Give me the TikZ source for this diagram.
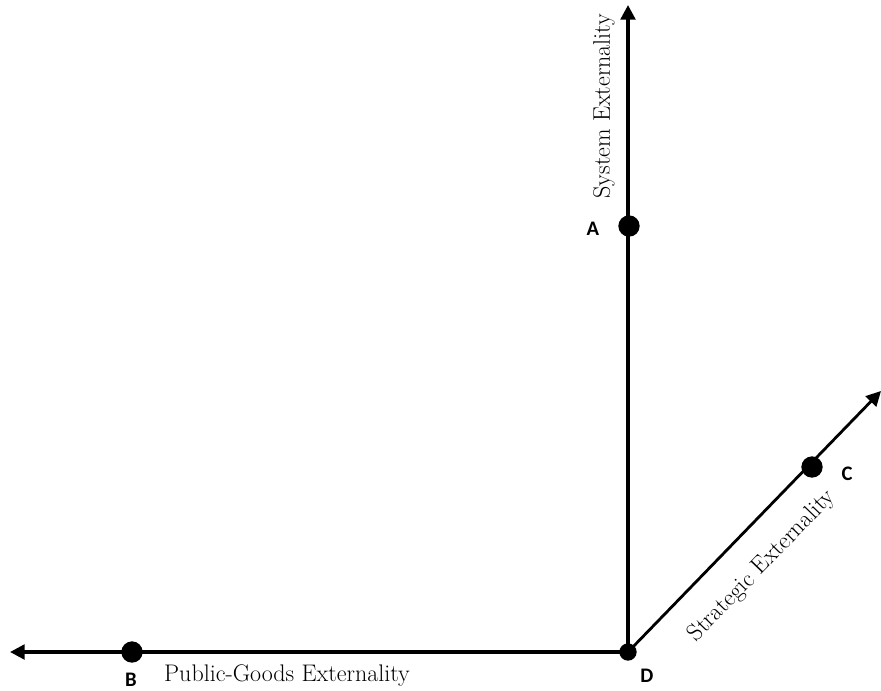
\documentclass[tikz,border=0pt]{standalone}
\usepackage{fontspec}
\newfontfamily\lblfont{Carlito}
\usepackage{tikz}
\usetikzlibrary{arrows.meta}
\usetikzlibrary{calc}

\tikzset{
  axis/.style={line width=2.5pt, ->},
  dot/.style={circle, fill=black, inner sep=0pt, minimum size=16pt},
  ptlabel/.style={font=\lblfont\bfseries\fontsize{15.5}{18}\selectfont},
  axlabel/.style={font=\fontsize{18}{21}\selectfont}
}

\begin{document}
\begin{tikzpicture}[x=0.75pt, y=-0.75pt, >={Triangle[length=11pt, width=11pt]}]
    \useasboundingbox (0,0) rectangle (881,690);
\coordinate (D) at (628, 652);
\coordinate (yend) at (628, 5);
\coordinate (xend) at (10, 652);
\coordinate (zend) at (881, 391);
\draw[axis] (D) -- (yend);
\draw[axis] (D) -- (xend);
\draw[axis, line width=2.1pt] (D) -- (zend);
\node[dot] (A) at (629, 226) {};
\node[dot] (B) at (132, 652) {};
\node[dot] (C) at (812, 467) {};
\node[dot, minimum size=13pt] (Dpt) at (D) {};
\node[ptlabel] (Alab) at (593, 229) {A};
\node[ptlabel] (Blab) at (131, 680) {B};
\node[ptlabel] (Clab) at (847, 474) {C};
\node[ptlabel] (Dlab) at (647, 676) {D};
\node[axlabel, rotate=90] (ylab) at (604, 106) {System Externality};
\node[axlabel] (xlab) at (287, 676) {Public-Goods Externality};
\node[axlabel, rotate=46] (zlab) at (762, 566) {Strategic Externality};
    \end{tikzpicture}
\end{document}
